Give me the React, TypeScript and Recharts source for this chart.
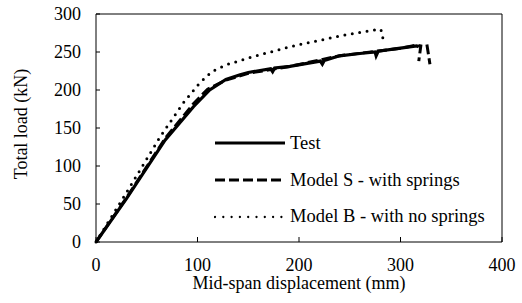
import React from 'react';
import { LineChart, Line, XAxis, YAxis, Legend, ReferenceLine } from 'recharts';

// mid-span displacement (mm) and total load (kN)
const testDisp = [0, 30, 68, 96, 112, 128, 142, 150, 172, 174, 176, 191, 221, 223, 225, 240, 260, 275, 276, 278, 300, 316, 318];
const testLoad = [0, 57, 134, 178, 200, 214, 220, 223, 228, 224, 229, 231, 238, 234, 239, 245, 248, 250, 245, 251, 255, 258, 257];

// null marks the break in the Model S trace near failure
const modelSDisp = [0, 30, 68, 96, 110, 128, 150, 191, 240, 276, 300, 316, 320, 318, 322, 326, 329];
const modelSLoad = [0, 58, 136, 182, 201, 213, 222, 231, 245, 251, 255, 259, 258, 238, null, 260, 234];

const modelBDisp = [0, 30, 63, 86, 102, 114, 128, 150, 191, 240, 265, 280, 282, 283];
const modelBLoad = [0, 65, 138, 183, 209, 224, 233, 242, 257, 271, 277, 280, 276, 263];

const xTicks = [0, 100, 200, 300, 400];
const yTicks = [0, 50, 100, 150, 200, 250, 300];

const toPoints = (xs: number[], ys: (number | null)[]) => xs.map((x, i) => ({ x, y: ys[i] }));

const testData = toPoints(testDisp, testLoad);
const modelSData = toPoints(modelSDisp, modelSLoad);
const modelBData = toPoints(modelBDisp, modelBLoad);

const font = "'Liberation Serif', 'DejaVu Serif', serif";
const fs = 18;

const legendRows = [
  { name: 'Test', dash: undefined, width: 3, cap: 'butt' },
  { name: 'Model S - with springs', dash: '10 4', width: 3, cap: 'butt' },
  { name: 'Model B - with no springs', dash: '0 8.3', width: 2.3, cap: 'round' },
];

const LegendBox = () => (
  <div style={{ fontFamily: font, fontSize: 18.5, color: '#000', lineHeight: 1 }}>
    {legendRows.map((r) => (
      <div key={r.name} style={{ display: 'flex', alignItems: 'center', height: 36.7 }}>
        <svg width={72} height={8} style={{ marginRight: 4 }}>
          <line x1={1} y1={4} x2={71} y2={4} stroke="#000" strokeWidth={r.width}
            strokeDasharray={r.dash} strokeLinecap={r.cap as any} />
        </svg>
        <span>{r.name}</span>
      </div>
    ))}
  </div>
);

const App: React.FC = () => {
  return (
    <div style={{ position: 'absolute', left: 0, top: 0, background: '#fff', fontFamily: font }}>
      <LineChart width={522} height={303} margin={{ top: 14, right: 20, bottom: 0, left: 0 }}>
        <XAxis
          type="number"
          dataKey="x"
          domain={[0, 400]}
          ticks={xTicks}
          height={61}
          stroke="#000"
          tickSize={-5}
          tickMargin={21}
          tick={{ fill: '#000', fontSize: fs, fontFamily: font }}
          label={{
            content: ({ viewBox }: any) => (
              <text x={viewBox.x + viewBox.width / 2} y={283} textAnchor="middle" dominantBaseline="central"
                style={{ fontFamily: font }} fontSize={fs} fill="#000">Mid-span displacement (mm)</text>
            ),
          }}
        />
        <YAxis
          type="number"
          dataKey="y"
          domain={[0, 300]}
          ticks={yTicks}
          width={96}
          stroke="#000"
          tickSize={-4}
          tickMargin={19}
          tick={{ fill: '#000', fontSize: fs, fontFamily: font }}
          label={{
            content: ({ viewBox }: any) => {
              const cy = viewBox.y + viewBox.height / 2 - 4;
              return (
                <text x={21} y={cy} transform={`rotate(-90, 21, ${cy})`} textAnchor="middle" dominantBaseline="central"
                  style={{ fontFamily: font }} fontSize={fs} fill="#000">Total load (kN)</text>
              );
            },
          }}
        />
        <ReferenceLine y={300} stroke="#000" strokeWidth={1} />
        <ReferenceLine x={400} stroke="#000" strokeWidth={1} />
        <Line data={modelBData} dataKey="y" stroke="#000" strokeWidth={3} strokeDasharray="0 7.5"
          strokeLinecap="round" dot={false} isAnimationActive={false} />
        <Line data={modelSData} dataKey="y" stroke="#000" strokeWidth={3} strokeDasharray="10 4"
          dot={false} connectNulls={false} isAnimationActive={false} />
        <Line data={testData} dataKey="y" stroke="#000" strokeWidth={3.2} dot={false} isAnimationActive={false} />
        <Legend
          layout="horizontal"
          align="center"
          verticalAlign="middle"
          content={() => <LegendBox />}
          wrapperStyle={{ left: 214, top: 125, width: 'auto' }}
        />
      </LineChart>
    </div>
  );
};

export default App;
